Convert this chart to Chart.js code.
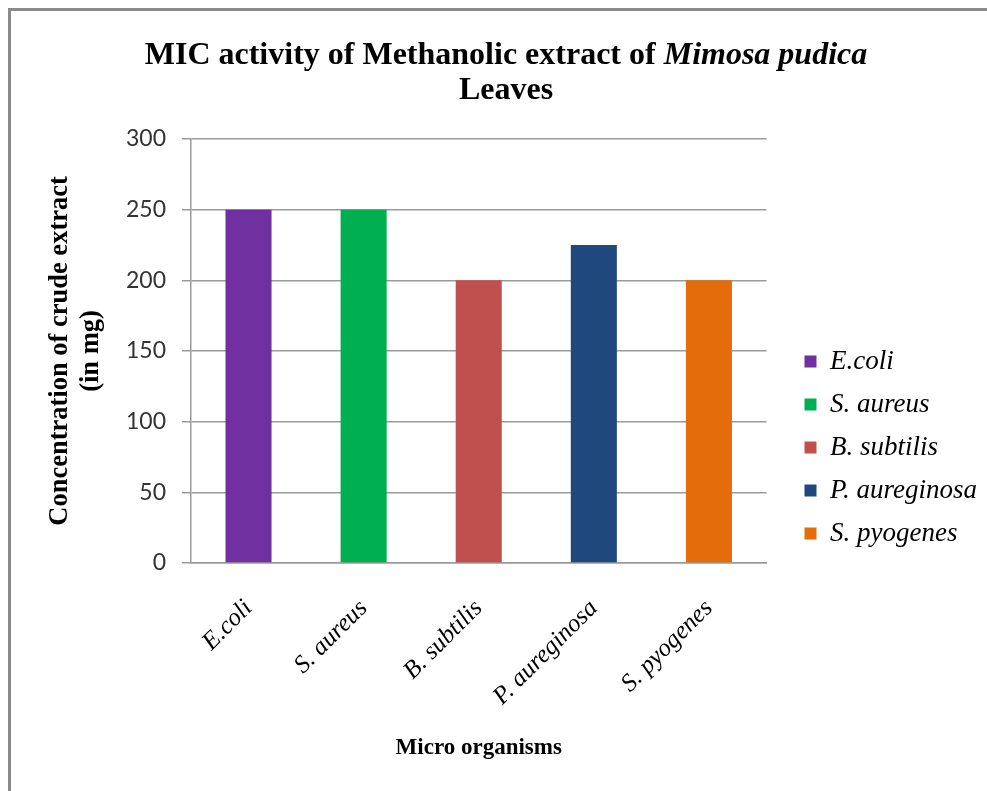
<!DOCTYPE html>
<html>
<head>
<meta charset="utf-8">
<script src="https://cdn.jsdelivr.net/npm/chart.js@4/dist/chart.umd.min.js"></script>
<style>
  html, body { margin: 0; padding: 0; background: #ffffff; }
  #wrap { position: relative; width: 987px; height: 791px; }
  #frame { position: absolute; left: 8px; top: 8px; right: 0; bottom: 0;
           border-left: 3px solid #8a8a8a; border-top: 3px solid #8a8a8a; pointer-events: none; }
</style>
</head>
<body>
<div id="wrap">
  <canvas id="c" width="987" height="791"></canvas>
  <div id="frame"></div>
</div>
<script>
// ---- data ----
const categories = ['E.coli', 'S. aureus', 'B. subtilis', 'P. aureginosa', 'S. pyogenes'];
const micValues = [250, 250, 200, 225, 200];
const barColors = ['#7030A0', '#00B050', '#C0504D', '#1F497D', '#E46C0A'];
const yTicks = [0, 50, 100, 150, 200, 250, 300];
const titleMain = 'MIC activity of Methanolic extract of ';
const titleItalic = 'Mimosa pudica';
const titleLine2 = 'Leaves';
const yTitle = ['Concentration of crude extract', '(in mg)'];
const xTitle = 'Micro organisms';

const SERIF = '"Liberation Serif", "Times New Roman", serif';

// Title plugin: bold title with an italic species name
const titlePlugin = {
  id: 'mixedTitle',
  afterDraw(chart) {
    const ctx = chart.ctx;
    ctx.save();
    ctx.fillStyle = '#000';
    ctx.textBaseline = 'alphabetic';
    const f1 = 'bold 32px ' + SERIF;
    const f2 = 'italic bold 32px ' + SERIF;
    ctx.font = f1; const w1 = ctx.measureText(titleMain).width;
    ctx.font = f2; const w2 = ctx.measureText(titleItalic).width;
    const cx = 506;
    const x = cx - (w1 + w2) / 2;
    ctx.font = f1; ctx.textAlign = 'left'; ctx.fillText(titleMain, x, 64);
    ctx.font = f2; ctx.fillText(titleItalic, x + w1, 64);
    ctx.font = f1; ctx.textAlign = 'center'; ctx.fillText(titleLine2, cx, 99);
    ctx.restore();
  }
};

const whiteBg = {
  id: 'whiteBg',
  beforeDraw(chart) {
    const ctx = chart.ctx;
    ctx.save(); ctx.fillStyle = '#ffffff';
    ctx.fillRect(0, 0, chart.width, chart.height); ctx.restore();
  }
};

new Chart(document.getElementById('c'), {
  type: 'bar',
  data: {
    labels: categories,
    datasets: [{
      label: 'MIC',
      data: micValues,
      backgroundColor: barColors,
      borderWidth: 0,
      categoryPercentage: 0.4,
      barPercentage: 1.0
    }]
  },
  options: {
    responsive: false,
    animation: false,
    layout: { padding: { top: 139, left: 45, right: 0, bottom: 29 } },
    plugins: {
      title: { display: false },
      tooltip: { enabled: false },
      legend: {
        position: 'right',
        align: 'end',
        fullSize: false,
        maxWidth: 300,
        labels: {
          boxWidth: 12,
          boxHeight: 12,
          padding: 16,
          color: '#000',
          font: { family: SERIF, size: 27, style: 'italic' },
          generateLabels: () => categories.map((c, i) => ({
            text: c, fillStyle: barColors[i], strokeStyle: barColors[i],
            lineWidth: 0, hidden: false, index: i, fontColor: '#000'
          }))
        }
      }
    },
    scales: {
      x: {
        grid: { display: false },
        border: { display: true, color: '#9a9a9a', width: 1.5 },
        ticks: {
          color: '#000',
          font: { family: SERIF, size: 25, style: 'italic' },
          minRotation: 45, maxRotation: 45,
          padding: 23
        },
        title: {
          display: true, text: xTitle, color: '#000',
          font: { family: SERIF, size: 23, weight: 'bold' },
          padding: { top: 0, bottom: 0 }
        }
      },
      y: {
        min: 0, max: 300,
        afterBuildTicks: (axis) => { axis.ticks = yTicks.map(v => ({ value: v })); },
        grid: { color: '#9a9a9a', lineWidth: 1.5, tickLength: 9, drawTicks: true },
        border: { display: true, color: '#9a9a9a', width: 1.5 },
        ticks: {
          color: '#333',
          font: { family: 'Lato, "Open Sans", sans-serif', size: 23 },
          padding: 16
        },
        title: {
          display: true, text: yTitle, color: '#000',
          font: { family: SERIF, size: 26.5, weight: 'bold', lineHeight: 1.15 },
          padding: { top: 0, bottom: 4 }
        }
      },
      gap: {
        type: 'linear',
        position: 'right',
        display: true,
        grid: { display: false },
        border: { display: false },
        ticks: { display: false },
        afterFit: (axis) => { axis.width = 22; }
      }
    }
  },
  plugins: [whiteBg, titlePlugin]
});
</script>
</body>
</html>
